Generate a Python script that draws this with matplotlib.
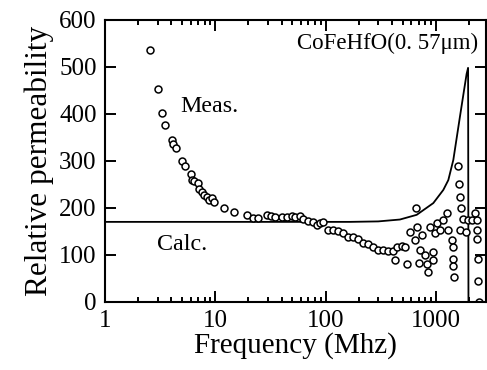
import matplotlib
matplotlib.use('Agg')
import matplotlib.pyplot as plt
import numpy as np
from matplotlib.ticker import LogLocator, NullFormatter, FixedLocator

meas_f = [2.56, 3.0, 3.26, 3.52, 4.02, 4.16, 4.40, 4.96, 5.35, 5.98, 6.1, 6.46, 6.92, 7.16,
          7.53, 7.9, 8.35, 8.83, 9.27, 9.8, 12.0, 14.8, 19.2, 21.8, 24.5, 29.2, 31.8, 34.8,
          40, 44.4, 49.3, 52.7, 58.6, 62.8, 69.7, 77.4, 83, 89, 95, 106, 117, 130, 145,
          161, 178, 198, 220, 244, 271, 301, 334, 371, 411, 441, 490, 525, 426, 543, 582,
          646, 669, 660, 718, 743, 708, 796, 824, 853, 885, 935, 982, 948, 1017, 1089,
          1167, 1253, 1297, 1390, 1440, 1420, 1440, 1459, 1597, 1630, 1653, 1675, 1653,
          1750, 1875, 1968, 2110, 2262, 2374, 2374, 2374, 2408, 2408, 2476]
meas_v = [535, 454, 401, 377, 344, 336, 327, 300, 288, 273, 259, 256, 252, 241,
          234, 227, 224, 217, 220, 213, 199, 190, 185, 179, 179, 185, 182, 180,
          180, 180, 182, 180, 182, 177, 172, 170, 163, 168, 170, 153, 153, 151, 146,
          138, 137, 133, 126, 123, 117, 111, 110, 109, 109, 117, 119, 116, 89, 80, 149,
          131, 160, 199, 110, 142, 82, 99, 80, 64, 160, 106, 146, 89, 167, 153,
          174, 188, 153, 131, 117, 92, 75, 53, 288, 251, 222, 199, 153,
          177, 149, 174, 174, 188, 174, 153, 133, 92, 44, 0]

# calculated curve
calc_f = [1, 100, 166, 300, 472, 670, 948, 1168, 1297, 1440, 1653, 1800, 1900, 1960, 1975]
calc_v = [170, 170, 170, 171, 175, 185, 210, 238, 259, 302, 394, 450, 485, 498, 0]

plt.rcParams['font.family'] = ['Liberation Serif', 'DejaVu Serif']

fig = plt.figure(figsize=(4.87, 3.70), dpi=100)
ax = fig.add_axes([0.2156, 0.1846, 0.7824, 0.7614])

ax.plot(calc_f, calc_v, color='black', lw=1.3)
ax.plot(meas_f, meas_v, linestyle='none', marker='o', ms=5, mfc='white',
        mec='black', mew=1.1)

ax.set_xscale('log')
ax.set_xlim(1, 2850)
ax.set_ylim(0, 600)
ax.xaxis.set_major_locator(FixedLocator([1, 10, 100, 1000]))
ax.set_xticklabels(['1', '10', '100', '1000'])
ax.xaxis.set_minor_locator(LogLocator(base=10, subs=np.arange(2, 10)))
ax.xaxis.set_minor_formatter(NullFormatter())
ax.set_yticks([0, 100, 200, 300, 400, 500, 600])

ax.tick_params(which='both', direction='in', top=True, right=True, labelsize=18,
               width=1.4)
ax.tick_params(which='major', length=8, pad=6)
ax.tick_params(which='minor', length=3.5)
for s in ax.spines.values():
    s.set_linewidth(1.5)

ax.set_xlabel('Frequency (Mhz)', fontsize=21, labelpad=0)
ax.set_ylabel('Relative permeability', fontsize=22.5, labelpad=4)

ax.text(4.78, 404, 'Meas.', fontsize=17.3)
ax.text(2.96, 110, 'Calc.', fontsize=17.3)
ax.text(0.505, 0.955, 'CoFeHfO(0. 57\u03bcm)', transform=ax.transAxes, fontsize=16.5,
        va='top', ha='left')

fig.savefig('out.png', dpi=100)
